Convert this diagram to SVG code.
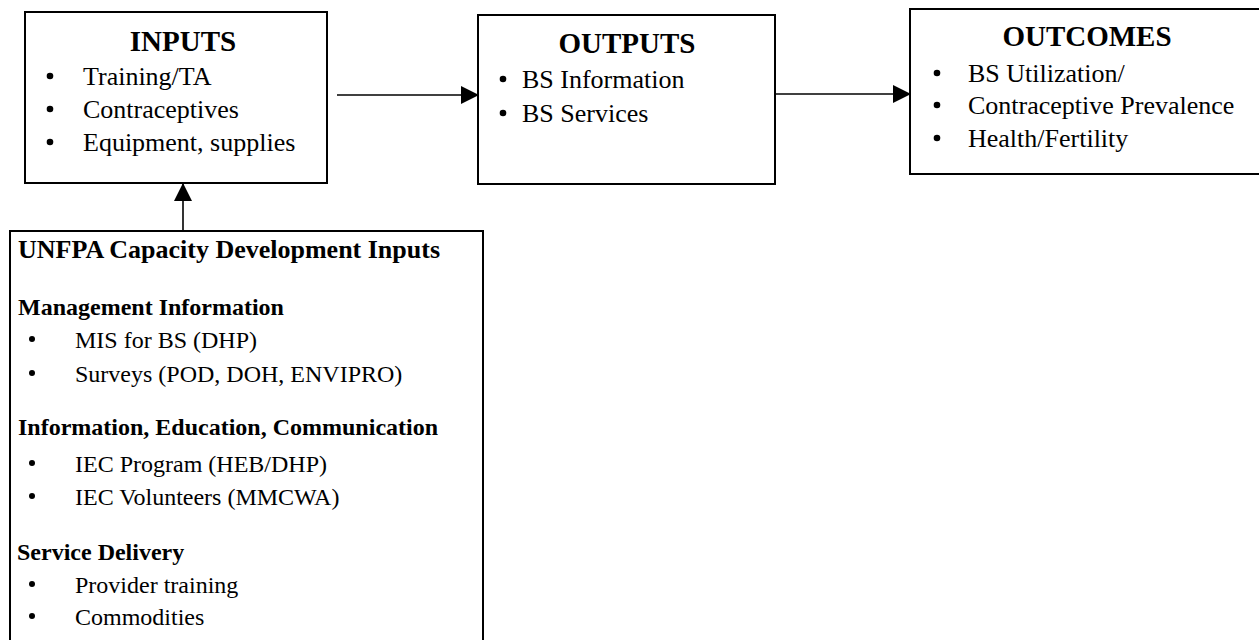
<svg xmlns="http://www.w3.org/2000/svg" width="1259" height="640" viewBox="0 0 1259 640">
  <style>
    .box { fill: #fff; stroke: #000; stroke-width: 2; }
    .title { font-family: "Liberation Serif", "Times New Roman", serif; font-weight: bold; font-size: 29px; fill: #000; text-anchor: middle; }
    .item { font-family: "Liberation Serif", "Times New Roman", serif; font-size: 26px; fill: #000; }
    .item-sm { font-family: "Liberation Serif", "Times New Roman", serif; font-size: 24px; fill: #000; }
    .head { font-family: "Liberation Serif", "Times New Roman", serif; font-weight: bold; font-size: 24px; fill: #000; }
    .head-lg { font-family: "Liberation Serif", "Times New Roman", serif; font-weight: bold; font-size: 26px; fill: #000; }
    .dot { fill: #000; }
    .link { stroke: #000; stroke-width: 1.6; fill: none; }
  </style>
  <defs>
    <marker id="arrow" viewBox="0 0 18 18" refX="17" refY="9" markerWidth="18" markerHeight="18" markerUnits="userSpaceOnUse" orient="auto">
      <path d="M0,0 L18,9 L0,18 Z" fill="#000"/>
    </marker>
  </defs>

  <rect width="1259" height="640" fill="#fff"/>

  <!-- Inputs -->
  <g id="inputs">
    <rect class="box" x="25" y="12" width="302" height="171"/>
    <text class="title" x="183" y="51">INPUTS</text>
    <circle class="dot" cx="50" cy="76" r="3.3"/>
    <text class="item" x="83" y="85">Training/TA</text>
    <circle class="dot" cx="50" cy="109" r="3.3"/>
    <text class="item" x="83" y="118">Contraceptives</text>
    <circle class="dot" cx="50" cy="142" r="3.3"/>
    <text class="item" x="83" y="151">Equipment, supplies</text>
  </g>

  <!-- Outputs -->
  <g id="outputs">
    <rect class="box" x="478" y="15" width="297" height="169"/>
    <text class="title" x="627" y="53">OUTPUTS</text>
    <circle class="dot" cx="503" cy="79" r="3.3"/>
    <text class="item" x="522" y="88">BS Information</text>
    <circle class="dot" cx="503" cy="113" r="3.3"/>
    <text class="item" x="522" y="122">BS Services</text>
  </g>

  <!-- Outcomes (box runs past the right edge) -->
  <g id="outcomes">
    <rect class="box" x="910" y="9" width="360" height="165"/>
    <text class="title" x="1087" y="46">OUTCOMES</text>
    <circle class="dot" cx="937" cy="73" r="3.3"/>
    <text class="item" x="968" y="82">BS Utilization/</text>
    <circle class="dot" cx="937" cy="105" r="3.3"/>
    <text class="item" x="968" y="114">Contraceptive Prevalence</text>
    <circle class="dot" cx="937" cy="138" r="3.3"/>
    <text class="item" x="968" y="147">Health/Fertility</text>
  </g>

  <!-- UNFPA capacity development inputs (box runs past the bottom edge) -->
  <g id="unfpa">
    <rect class="box" x="10" y="231" width="473" height="420"/>
    <text class="head-lg" x="18" y="258">UNFPA Capacity Development Inputs</text>

    <text class="head" x="18" y="315">Management Information</text>
    <circle class="dot" cx="32" cy="339" r="3"/>
    <text class="item-sm" x="75" y="348">MIS for BS (DHP)</text>
    <circle class="dot" cx="32" cy="373" r="3"/>
    <text class="item-sm" x="75" y="382">Surveys (POD, DOH, ENVIPRO)</text>

    <text class="head" x="18" y="435">Information, Education, Communication</text>
    <circle class="dot" cx="32" cy="463" r="3"/>
    <text class="item-sm" x="75" y="472">IEC Program (HEB/DHP)</text>
    <circle class="dot" cx="32" cy="496" r="3"/>
    <text class="item-sm" x="75" y="505">IEC Volunteers (MMCWA)</text>

    <text class="head" x="17" y="560">Service Delivery</text>
    <circle class="dot" cx="32" cy="584" r="3"/>
    <text class="item-sm" x="75" y="593">Provider training</text>
    <circle class="dot" cx="32" cy="616" r="3"/>
    <text class="item-sm" x="75" y="625">Commodities</text>
  </g>

  <!-- Connectors -->
  <g id="connectors">
    <line class="link" x1="337" y1="95" x2="478" y2="95" marker-end="url(#arrow)"/>
    <line class="link" x1="775" y1="94" x2="910" y2="94" marker-end="url(#arrow)"/>
    <line class="link" x1="183" y1="231" x2="183" y2="184" marker-end="url(#arrow)"/>
  </g>
</svg>
